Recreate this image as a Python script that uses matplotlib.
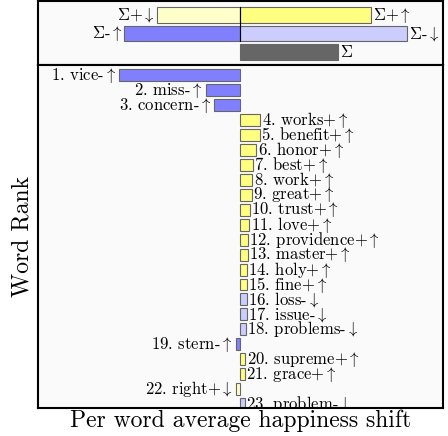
import matplotlib
matplotlib.use("Agg")
import matplotlib.pyplot as plt

plt.rcParams['font.family'] = ['cmr10']
plt.rcParams['mathtext.fontset'] = 'cm'
plt.rcParams['axes.formatter.use_mathtext'] = True

# Summary panel
sum_labels_neg = [r"$\Sigma$+$\downarrow$", r"$\Sigma$-$\uparrow$"]
sum_labels_pos = [r"$\Sigma$+$\uparrow$", r"$\Sigma$-$\downarrow$"]
sum_neg = [-0.686, -0.959]
sum_pos = [1.074, 1.372]
sum_total = 0.801

# Word panel
words = ["vice", "miss", "concern", "works", "benefit", "honor", "best", "work",
         "great", "trust", "love", "providence", "master", "holy", "fine", "loss",
         "issue", "problems", "stern", "supreme", "grace", "right", "problem"]
signs = ["-↑", "-↑", "-↑", "+↑", "+↑", "+↑", "+↑", "+↑", "+↑", "+↑", "+↑", "+↑",
         "+↑", "+↑", "+↑", "-↓", "-↓", "-↓", "-↑", "+↑", "+↑", "+↓", "-↓"]
shifts = [-1.000, -0.285, -0.215, 0.165, 0.157, 0.132, 0.103, 0.097, 0.091,
          0.079, 0.074, 0.058, 0.058, 0.054, 0.054, 0.054, 0.050, 0.045,
          -0.040, 0.039, 0.037, -0.036, 0.034]

colors = {"+↑": "#ffff80", "+↓": "#ffffcc", "-↑": "#8080ff", "-↓": "#ccccff"}
edge = "#666666"
XL = 1.67
FS = 12

fig = plt.figure(figsize=(4.48, 4.36), dpi=100)
ax1 = fig.add_axes([0.0848, 0.8509, 0.904, 0.1468])
ax2 = fig.add_axes([0.0848, 0.0642, 0.904, 0.7867])

for ax in (ax1, ax2):
    ax.set_facecolor('#fafafa')
    ax.set_xticks([])
    ax.set_yticks([])
    for s in ax.spines.values():
        s.set_linewidth(1.5)
    ax.set_xlim(-XL, XL)

# top panel
ax1.barh([1, 1], [sum_neg[0], sum_pos[0]], height=0.85,
         color=["#ffffcc", "#ffff80"], edgecolor=edge, linewidth=0.8)
ax1.barh([2, 2], [sum_neg[1], sum_pos[1]], height=0.85,
         color=["#8080ff", "#ccccff"], edgecolor=edge, linewidth=0.8)
ax1.barh([3], [sum_total], height=0.85, color="#666666", edgecolor=edge, linewidth=0.8)
ax1.plot([0, 0], [0.575, 2.425], color='black', lw=0.8)
for i in range(2):
    ax1.annotate(sum_labels_neg[i], (sum_neg[i], i + 1), xytext=(-1.5, 0),
                 textcoords='offset points', ha='right', va='center', fontsize=FS)
    ax1.annotate(sum_labels_pos[i], (sum_pos[i], i + 1), xytext=(1.5, 0),
                 textcoords='offset points', ha='left', va='center', fontsize=FS)
ax1.annotate(r"$\Sigma$", (sum_total, 3), xytext=(1.5, 0), textcoords='offset points',
             ha='left', va='center', fontsize=FS)
ax1.set_ylim(3.7, 0.24)

# bottom panel
ranks = list(range(1, len(words) + 1))
ax2.barh(ranks, shifts, height=0.8, color=[colors[s] for s in signs],
         edgecolor=edge, linewidth=0.8)
for r, w, s, v in zip(ranks, words, signs, shifts):
    arrow = r"$\uparrow$" if s[1] == "↑" else r"$\downarrow$"
    lab = f"{r}. {w}{s[0]}" + arrow
    if v < 0:
        ax2.annotate(lab, (v, r), xytext=(-2, 0), textcoords='offset points',
                     ha='right', va='center', fontsize=FS, clip_on=True)
    else:
        ax2.annotate(lab, (v, r), xytext=(1, 0), textcoords='offset points',
                     ha='left', va='center', fontsize=FS, clip_on=True)
ax2.set_ylim(23.27, 0.3)
ax2.set_ylabel("Word Rank", fontsize=17, labelpad=3)
ax2.set_xlabel("Per word average happiness shift", fontsize=17, labelpad=1)

fig.savefig("out.png", dpi=100)
